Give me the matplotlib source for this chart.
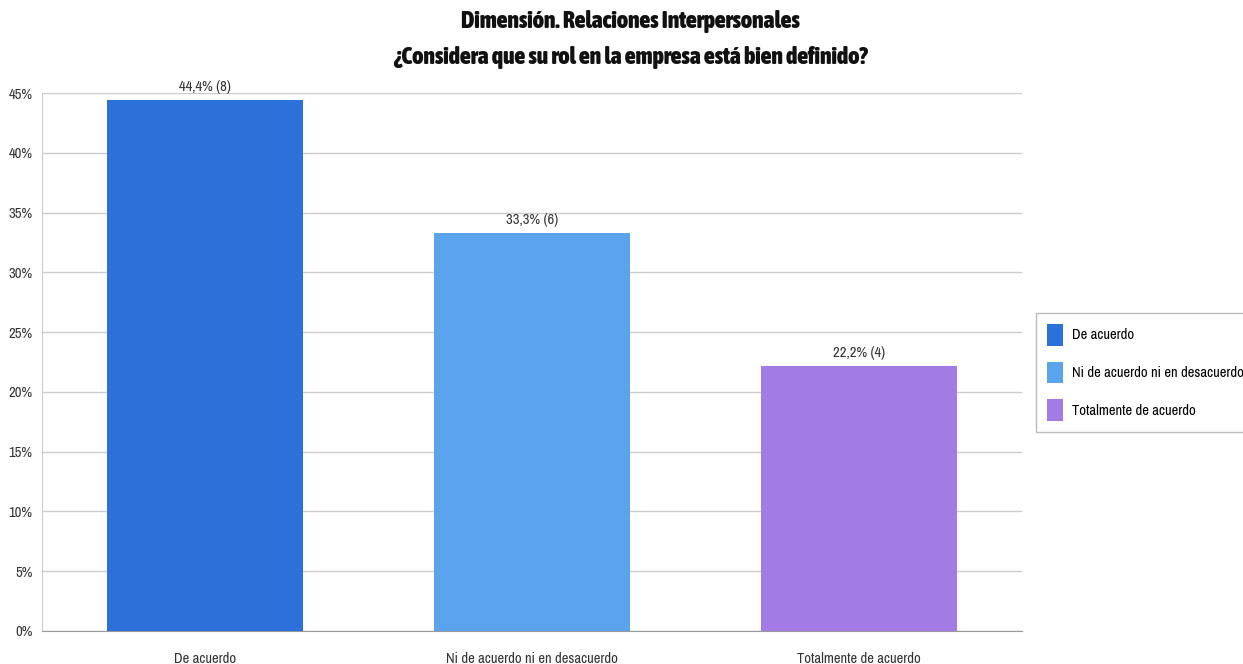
import matplotlib
matplotlib.use("Agg")
import matplotlib.pyplot as plt
from matplotlib.patches import Patch
from matplotlib import font_manager

categories = ["De acuerdo", "Ni de acuerdo ni en desacuerdo", "Totalmente de acuerdo"]
percentages = [44.4, 33.3, 22.2]
counts = [8, 6, 4]
colors = ["#2B71D9", "#5AA4EE", "#A37BE4"]
yticks = [0, 5, 10, 15, 20, 25, 30, 35, 40, 45]
title_lines = ["Dimensión. Relaciones Interpersonales",
               "¿Considera que su rol en la empresa está bien definido?"]


def weight_of(f):
    w = f.weight
    if isinstance(w, str):
        return {"bold": 700, "semibold": 600, "demibold": 600, "heavy": 800,
                "black": 900, "extra bold": 800, "normal": 400,
                "regular": 400, "light": 300}.get(w.lower(), 400)
    return int(w)


fonts = font_manager.fontManager.ttflist
narrow_regular = None
narrow_bold = None
for f in fonts:
    n = f.name.lower()
    if "narrow" in n or "condensed" in n:
        w = weight_of(f)
        if narrow_regular is None and w <= 400 and f.style == "normal":
            narrow_regular = f
        if narrow_bold is None and w >= 600 and f.style == "normal":
            narrow_bold = f

if narrow_regular is not None:
    plt.rcParams["font.family"] = [narrow_regular.name, "DejaVu Sans"]
    small = 10.5
else:
    plt.rcParams["font.family"] = ["Roboto", "DejaVu Sans"]
    small = 8.3

if narrow_bold is not None:
    title_props = font_manager.FontProperties(fname=narrow_bold.fname, size=17)
else:
    title_props = font_manager.FontProperties(family="Roboto", weight="bold", size=11.6)

fig = plt.figure(figsize=(12.43, 6.64), dpi=100)
ax = fig.add_axes([0.0338, 0.0497, 0.7884, 0.8102])

x = list(range(len(categories)))
ax.bar(x, percentages, width=0.6, color=colors, zorder=3)
for xi, p, c in zip(x, percentages, counts):
    ax.text(xi, p + 0.5, f"{p:.1f}".replace(".", ",") + f"% ({c})",
            ha="center", va="bottom", fontsize=small, color="#333333")

ax.set_xlim(-0.5, 2.5)
ax.set_ylim(0, 45)
ax.set_yticks(yticks)
ax.set_yticklabels([f"{t}%" for t in yticks], fontsize=small, color="#333333")
ax.set_xticks(x)
ax.set_xticklabels(categories, fontsize=small, color="#333333")
ax.tick_params(axis="both", length=0, pad=7)
ax.tick_params(axis="x", pad=15)
ax.grid(axis="y", color="#cccccc", linewidth=1, zorder=0)
for s in ["top", "right"]:
    ax.spines[s].set_visible(False)
ax.spines["left"].set_color("#cccccc")
ax.spines["bottom"].set_color("#999999")

fig.text(0.507, 0.967, title_lines[0], ha="center", va="center",
         fontproperties=title_props, color="#111111")
fig.text(0.507, 0.914, title_lines[1], ha="center", va="center",
         fontproperties=title_props, color="#111111")

handles = [Patch(facecolor=c, edgecolor="none") for c in colors]
leg = fig.legend(handles, categories, loc="upper left",
                 bbox_to_anchor=(1036 / 1243, 1 - 313 / 664),
                 fontsize=small, frameon=True, fancybox=False,
                 handlelength=1.1, handleheight=1.9, labelspacing=1.1,
                 borderpad=0.75, handletextpad=0.6, borderaxespad=0)
leg.get_frame().set_edgecolor("#aaaaaa")
leg.get_frame().set_linewidth(1)

fig.savefig("out.png", dpi=100)
